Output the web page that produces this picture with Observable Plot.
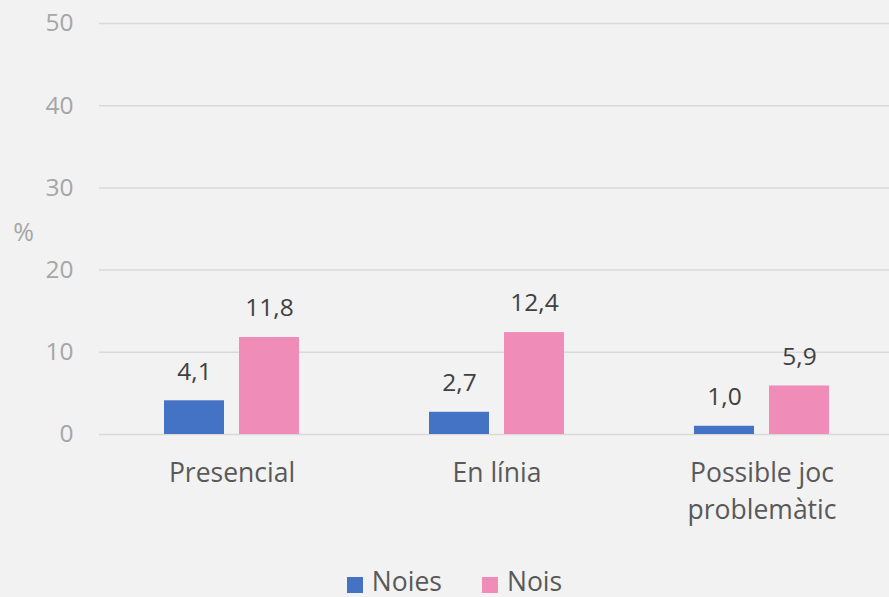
<!DOCTYPE html>
<html>
<head>
<meta charset="utf-8">
<script src="https://cdn.jsdelivr.net/npm/d3@7"></script>
<script src="https://cdn.jsdelivr.net/npm/@observablehq/plot@0.6"></script>
<style>
  html, body { margin: 0; padding: 0; background: #f2f2f2; overflow: hidden; }
  body { width: 889px; height: 597px; position: relative; font-family: "Open Sans", sans-serif; }
  #legend { position: absolute; left: 10px; top: 563px; width: 889px; display: flex; justify-content: center; gap: 40px; font-size: 26.5px; color: #595959; }
  #legend span.item { display: flex; align-items: center; }
  #legend span.sw { display: inline-block; width: 16px; height: 16px; margin-right: 9px; margin-top: 8px; }
</style>
</head>
<body>
<div id="chart"></div>
<div id="legend"></div>
<script>
const categories = ["Presencial", "En línia", "Possible joc problemàtic"];
const categoryLabels = ["Presencial", "En línia", "Possible joc\nproblemàtic"];
const series = ["Noies", "Nois"];
const noies = [4.1, 2.7, 1.0];
const nois = [11.8, 12.4, 5.9];
const yTicks = [0, 10, 20, 30, 40, 50];
const colors = ["#4472c4", "#f08cb8"];

const data = [];
categories.forEach((c, i) => {
  data.push({cat: c, s: series[0], v: noies[i]});
  data.push({cat: c, s: series[1], v: nois[i]});
});
const fmt = v => v.toFixed(1).replace(".", ",");
const labelOf = c => categoryLabels[categories.indexOf(c)];

const chart = Plot.plot({
  width: 889,
  height: 560,
  marginLeft: 98,
  marginRight: -6,
  marginTop: 23,
  marginBottom: 126,
  style: {background: "transparent", fontFamily: "Open Sans, sans-serif", fontSize: "24.5px"},
  fx: {domain: categories, paddingInner: 0, paddingOuter: 0, label: null, axis: null},
  x: {domain: series, paddingInner: 0.2, paddingOuter: 0.86, axis: null},
  y: {domain: [0, 50], label: null},
  color: {domain: series, range: colors},
  marks: [
    Plot.gridY(yTicks, {stroke: "#d9d9d9", strokeOpacity: 1, strokeWidth: 1.5}),
    Plot.axisY(yTicks, {tickSize: 0, tickPadding: 26, fill: "#a6a6a6", label: null}),
    Plot.text(categories, {fx: d => d, text: labelOf, frameAnchor: "bottom", lineAnchor: "top", dy: 21, fontSize: 26.5, lineHeight: 1.4, fill: "#595959"}),
    Plot.barY(data, {fx: "cat", x: "s", y: "v", fill: "s"}),
    Plot.text(data, {fx: "cat", x: "s", y: "v", text: d => fmt(d.v), dy: -29, fontSize: 24.5, fill: "#404040"}),
    Plot.text(["%"], {frameAnchor: "left", dx: -76, dy: 4, fontSize: 25, fill: "#a6a6a6", textAnchor: "middle", facet: "super"})
  ]
});
document.getElementById("chart").appendChild(chart);

const legend = document.getElementById("legend");
series.forEach((s, i) => {
  const item = document.createElement("span");
  item.className = "item";
  const sw = document.createElement("span");
  sw.className = "sw";
  sw.style.background = colors[i];
  item.appendChild(sw);
  item.appendChild(document.createTextNode(s));
  legend.appendChild(item);
});
</script>
</body>
</html>
